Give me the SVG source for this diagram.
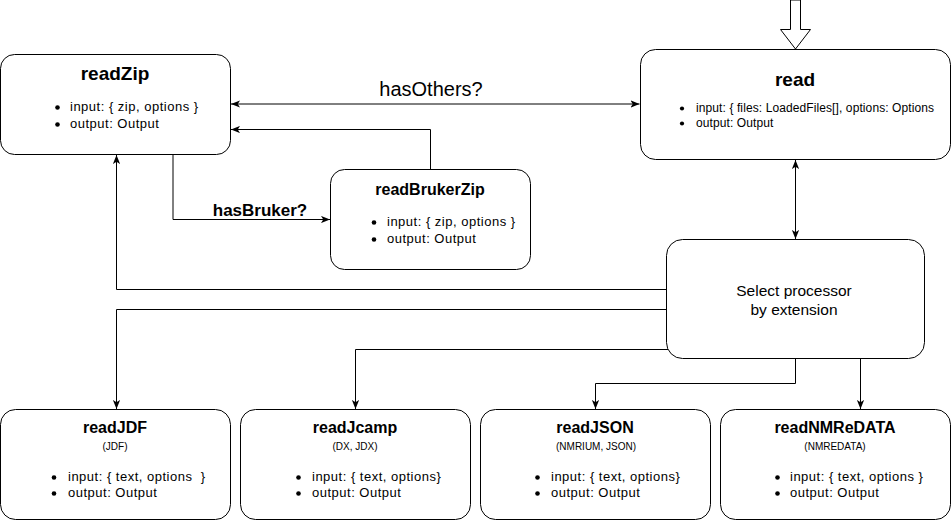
<svg xmlns="http://www.w3.org/2000/svg" width="951" height="521" viewBox="0 0 951 521">
<defs>
<style>
.box{fill:#ffffff;stroke:#000000;stroke-width:1}
.t{font-family:"Liberation Sans",Arial,Helvetica,sans-serif;fill:#000000}
.big{font-size:19px;font-weight:bold;text-anchor:middle}
.ttl{font-size:16px;font-weight:bold;text-anchor:middle}
.li{font-size:13px;letter-spacing:0.5px}
.lis{font-size:12px;letter-spacing:0.1px}
.sub{font-size:10px;text-anchor:middle}
.lbl{font-size:20px;text-anchor:middle}
.lblb{font-size:17px;font-weight:bold;text-anchor:middle}
.sel{font-size:15.5px;text-anchor:middle}
.c{fill:none;stroke:#000000;stroke-width:1}
.dot{fill:#000000}
</style>
<marker id="ah" viewBox="0 0 10 8" refX="10" refY="4" markerWidth="9" markerHeight="7.5" markerUnits="userSpaceOnUse" orient="auto-start-reverse">
<path d="M0,0 L10,4 L0,8 L2.5,4 z" fill="#000000"/>
</marker>
</defs>
<rect width="951" height="521" fill="#ffffff"/>

<g id="connectors">
<path class="c" d="M231,104 H639.5" marker-start="url(#ah)" marker-end="url(#ah)"/>
<path class="c" d="M430.5,169 V129.5 H231" marker-end="url(#ah)"/>
<path class="c" d="M173,154.5 V219.5 H330" marker-end="url(#ah)"/>
<path class="c" d="M666.5,289.5 H116.5 V155" marker-end="url(#ah)"/>
<path class="c" d="M666.5,309.5 H116.5 V409" marker-end="url(#ah)"/>
<path class="c" d="M668,349.5 H355.5 V409" marker-end="url(#ah)"/>
<path class="c" d="M795.5,358.5 V383.5 H595.5 V409" marker-end="url(#ah)"/>
<path class="c" d="M860.5,358.5 V409" marker-end="url(#ah)"/>
<path class="c" d="M795.5,160 V239" marker-start="url(#ah)" marker-end="url(#ah)"/>
<polygon points="790.5,0 800.5,0 800.5,29.5 810.5,29.5 795.5,49 780.5,29.5 790.5,29.5" fill="#ffffff" stroke="#000000" stroke-width="1"/>
<text class="t lbl" x="431" y="96">hasOthers?</text>
<text class="t lblb" x="260" y="216">hasBruker?</text>
</g>

<g id="readZip">
<rect class="box" x="0.5" y="54.5" width="230" height="100" rx="14" ry="14"/>
<text class="t big" x="115" y="80">readZip</text>
<circle class="dot" cx="57.5" cy="107.5" r="2.3"/>
<circle class="dot" cx="57.5" cy="124.5" r="2.3"/>
<text class="t li" x="70" y="111">input: { zip, options }</text>
<text class="t li" x="70" y="128">output: Output</text>
</g>

<g id="read">
<rect class="box" x="640.5" y="49.5" width="310" height="110" rx="15" ry="15"/>
<text class="t big" x="795" y="86">read</text>
<circle class="dot" cx="682" cy="108.5" r="2.1"/>
<circle class="dot" cx="682" cy="123.5" r="2.1"/>
<text class="t lis" x="696" y="112">input: { files: LoadedFiles[], options: Options</text>
<text class="t lis" x="696" y="127">output: Output</text>
</g>

<g id="readBrukerZip">
<rect class="box" x="330.5" y="169.5" width="200" height="100" rx="14" ry="14"/>
<text class="t ttl" x="430" y="195">readBrukerZip</text>
<circle class="dot" cx="374" cy="222.5" r="2.3"/>
<circle class="dot" cx="374" cy="239.5" r="2.3"/>
<text class="t li" x="387" y="226">input: { zip, options }</text>
<text class="t li" x="387" y="243">output: Output</text>
</g>

<g id="selectProcessor">
<rect class="box" x="666.5" y="239.5" width="258" height="119" rx="16" ry="16"/>
<text class="t sel" x="794" y="296">Select processor</text>
<text class="t sel" x="794" y="315">by extension</text>
</g>

<g id="readJDF">
<rect class="box" x="0.5" y="409.5" width="230" height="110" rx="15" ry="15"/>
<text class="t ttl" x="115" y="433">readJDF</text>
<text class="t sub" x="115" y="450">(JDF)</text>
<circle class="dot" cx="54" cy="477.5" r="2.3"/>
<circle class="dot" cx="54" cy="493.5" r="2.3"/>
<text class="t li" x="68" y="481" xml:space="preserve">input: { text, options  }</text>
<text class="t li" x="68" y="497">output: Output</text>
</g>

<g id="readJcamp">
<rect class="box" x="240.5" y="409.5" width="230" height="110" rx="15" ry="15"/>
<text class="t ttl" x="355" y="433">readJcamp</text>
<text class="t sub" x="355" y="450">(DX, JDX)</text>
<circle class="dot" cx="298.5" cy="477.5" r="2.3"/>
<circle class="dot" cx="298.5" cy="493.5" r="2.3"/>
<text class="t li" x="312" y="481">input: { text, options}</text>
<text class="t li" x="312" y="497">output: Output</text>
</g>

<g id="readJSON">
<rect class="box" x="480.5" y="409.5" width="230" height="110" rx="15" ry="15"/>
<text class="t ttl" x="595" y="433">readJSON</text>
<text class="t sub" x="596" y="450">(NMRIUM, JSON)</text>
<circle class="dot" cx="537.5" cy="477.5" r="2.3"/>
<circle class="dot" cx="537.5" cy="493.5" r="2.3"/>
<text class="t li" x="551" y="481">input: { text, options}</text>
<text class="t li" x="551" y="497">output: Output</text>
</g>

<g id="readNMReDATA">
<rect class="box" x="720.5" y="409.5" width="230" height="110" rx="15" ry="15"/>
<text class="t ttl" x="835" y="433">readNMReDATA</text>
<text class="t sub" x="835" y="450">(NMREDATA)</text>
<circle class="dot" cx="777.5" cy="477.5" r="2.3"/>
<circle class="dot" cx="777.5" cy="493.5" r="2.3"/>
<text class="t li" x="790" y="481">input: { text, options }</text>
<text class="t li" x="790" y="497">output: Output</text>
</g>
</svg>
